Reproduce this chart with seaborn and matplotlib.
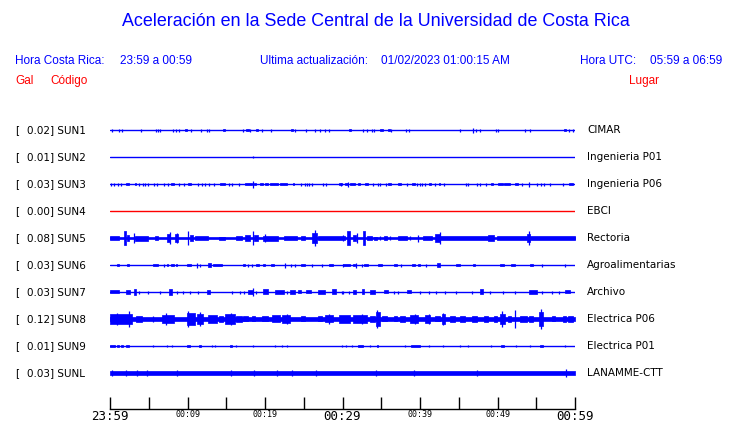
import matplotlib
matplotlib.use("Agg")
import matplotlib.pyplot as plt
import seaborn as sns

# station table
codes = ["SUN1", "SUN2", "SUN3", "SUN4", "SUN5", "SUN6", "SUN7", "SUN8", "SUN9", "SUNL"]
gal = [0.02, 0.01, 0.03, 0.00, 0.08, 0.03, 0.03, 0.12, 0.01, 0.03]
places = ["CIMAR", "Ingenieria P01", "Ingenieria P06", "EBCI", "Rectoria",
          "Agroalimentarias", "Archivo", "Electrica P06", "Electrica P01", "LANAMME-CTT"]
trace_colors = ["blue", "blue", "blue", "red", "blue", "blue", "blue", "blue", "blue", "blue"]

# time axis (minutes after 23:59)
tick_min = list(range(0, 61, 5))
tick_text = ["23:59", "", "00:09", "", "00:19", "", "00:29", "", "00:39", "", "00:49", "", "00:59"]

# half amplitude (pixels) of the quiet trace and of isolated spikes
base_amp = [0.5, 0.5, 0.5, 0.5, 1.0, 0.5, 0.5, 1.8, 0.5, 1.7]
spike_amp = [1.5, 1.0, 1.5, 0.0, 2.0, 1.5, 1.5, 3.0, 1.3, 3.0]

# isolated spikes, minute of occurrence
sun1_spikes = [0.3, 1.2, 1.6, 4.0, 5.9, 6.2, 6.5, 8.1, 8.5, 8.9, 10.5, 11.7, 12.5, 12.8, 17.1, 18.1,
               19.6, 20.8, 23.9, 25.3, 26.4, 27.1, 27.7, 28.3, 32.6, 33.2, 33.8, 34.0, 36.3, 38.2,
               38.6, 45.2, 47.2, 47.8, 49.8, 50.1, 53.6, 54.2, 59.2, 59.7]
sun2_spikes = [18.4]
sun3_spikes = [0.1, 0.5, 1.0, 1.4, 3.8, 4.2, 4.5, 4.9, 5.7, 6.0, 7.0, 7.5, 8.9, 9.5, 11.4, 11.9, 12.3,
               12.8, 13.4, 15.4, 15.7, 16.6, 24.6, 25.1, 25.4, 25.7, 26.1, 27.5, 27.9, 29.8, 33.9,
               34.6, 34.9, 35.6, 38.3, 39.6, 40.0, 40.2, 40.7, 41.9, 43.1, 45.9, 46.2, 47.3, 47.7,
               48.5, 53.2, 55.1, 55.6, 56.0, 56.8, 58.5]
sun4_spikes = []
sun5_spikes = [34.8, 36.1, 38.7]
sun6_spikes = [7.0, 11.6, 17.85, 18.3, 23.3, 23.9, 26.0, 27.3, 30.1, 32.5, 37.6, 40.8, 55.7, 58.7]
sun7_spikes = [3.8, 4.9, 6.4, 8.6, 9.4, 10.3, 11.3, 15.7, 16.8, 17.3, 18.8, 22.8, 29.9, 30.0, 30.8,
               36.6, 37.2, 40.0, 41.2, 42.1, 43.2, 44.7, 46.7, 49.0, 50.7, 52.2, 55.7, 57.0, 57.9]
sun8_spikes = [5.5]
sun9_spikes = [5.6, 7.3, 8.0, 13.1, 13.5, 16.3, 18.4, 21.3, 22.2, 22.8, 29.9, 30.5, 31.2, 33.6,
               38.0, 41.1, 43.0, 45.2, 46.2, 49.2, 52.4, 54.2, 58.7]
sunl_spikes = [0.3, 2.0, 3.5, 4.8, 8.7, 15.6, 18.6, 21.5, 23.5, 26.6, 34.3, 39.2, 47.4]

# bursts: (start minute, end minute, half amplitude in pixels)
sun1_bursts = [(9.7, 9.9, 1.3), (14.6, 14.8, 1.3), (17.6, 17.9, 1.3), (18.8, 19.05, 1.3),
               (23.35, 23.55, 1.3), (30.8, 31.1, 1.3), (34.9, 35.2, 1.3), (35.9, 36.1, 1.3),
               (46.8, 46.8, 2.5), (58.6, 58.8, 1.3)]
sun2_bursts = []
sun3_bursts = [(2.0, 2.45, 1.3), (3.2, 3.4, 1.3), (7.9, 8.2, 1.3), (10.0, 10.4, 1.3), (14.2, 14.8, 1.3),
               (17.4, 18.3, 1.3), (18.6, 18.9, 1.3), (19.4, 19.7, 1.3), (20.0, 20.4, 1.3),
               (20.6, 21.7, 1.3), (21.9, 22.8, 1.3), (23.6, 23.8, 1.3), (29.5, 29.9, 1.3),
               (30.3, 30.75, 1.3), (31.0, 31.6, 1.3), (32.0, 32.3, 1.3), (32.9, 33.3, 1.3),
               (35.9, 36.3, 1.3), (37.2, 37.6, 1.3), (39.0, 39.3, 1.3), (41.2, 41.4, 1.3),
               (42.4, 42.6, 1.3), (49.2, 49.4, 1.3), (50.0, 50.7, 1.3), (50.9, 51.6, 1.3),
               (52.2, 52.7, 1.3), (59.2, 59.8, 1.3), (18.4, 18.4, 3.5), (30.7, 30.7, 2.5),
               (54.1, 54.1, 2.5)]
sun4_bursts = []
sun5_bursts = [(0.0, 1.1, 2.0), (1.85, 2.0, 7.0), (2.15, 2.45, 3.0), (3.1, 3.1, 5.0), (3.2, 4.9, 2.5),
               (5.8, 6.2, 2.0), (7.3, 7.8, 4.0), (7.7, 7.7, 6.0), (8.4, 8.8, 4.0), (8.6, 8.6, 5.0),
               (10.1, 10.1, 7.0), (10.3, 10.75, 3.0), (10.95, 12.7, 2.0), (14.0, 14.8, 1.5),
               (16.3, 17.0, 2.0), (17.4, 18.1, 3.0), (18.4, 18.4, 7.0), (18.6, 19.1, 3.0),
               (19.8, 21.7, 2.5), (20.0, 20.0, 4.0), (22.4, 24.1, 2.0), (24.7, 25.2, 2.0),
               (26.0, 26.7, 5.0), (26.5, 26.5, 8.0), (26.9, 30.3, 1.8), (30.0, 30.0, 3.0),
               (30.6, 31.0, 7.0), (31.4, 31.8, 3.0), (31.9, 31.9, 5.0), (32.7, 32.9, 7.0),
               (33.1, 33.8, 2.0), (34.0, 34.4, 1.5), (35.3, 35.7, 2.0), (37.2, 38.3, 2.0),
               (39.7, 39.7, 3.5), (40.4, 41.5, 2.0), (41.9, 42.6, 4.0), (42.6, 42.6, 6.0),
               (42.6, 48.8, 1.8), (48.8, 49.5, 3.0), (49.9, 53.8, 2.0), (53.8, 54.2, 4.0),
               (54.0, 54.0, 7.0), (54.2, 60.0, 1.8)]
sun6_bursts = [(0.9, 1.2, 1.5), (2.2, 2.5, 1.5), (5.6, 6.2, 1.5), (7.35, 7.5, 1.5), (7.9, 8.2, 1.5),
               (8.55, 8.7, 1.5), (9.9, 10.5, 1.5), (11.2, 11.2, 2.5), (12.7, 13.0, 2.0),
               (13.3, 14.4, 1.5), (17.1, 17.4, 1.5), (18.9, 19.2, 1.5), (19.8, 20.0, 1.5),
               (20.8, 21.2, 1.5), (22.6, 22.6, 2.5), (24.7, 25.2, 1.5), (28.3, 28.8, 1.5),
               (30.1, 31.0, 1.5), (31.3, 31.6, 1.5), (31.8, 31.8, 2.5), (32.8, 33.3, 1.5),
               (34.6, 35.1, 1.5), (36.6, 37.0, 1.5), (39.0, 39.4, 1.5), (39.7, 40.0, 1.5),
               (42.2, 42.6, 2.0), (44.7, 45.2, 1.5), (46.8, 47.1, 1.5), (50.3, 50.8, 1.5),
               (51.7, 52.2, 1.5), (54.2, 54.6, 1.5)]
sun7_bursts = [(0.0, 1.1, 1.5), (2.0, 2.6, 2.0), (3.1, 3.4, 3.0), (7.6, 8.0, 3.0), (12.5, 12.9, 2.0),
               (17.85, 18.5, 2.0), (18.4, 18.4, 4.0), (19.8, 20.4, 2.5), (21.3, 22.4, 2.0),
               (23.2, 23.9, 2.0), (24.3, 24.7, 1.5), (25.3, 25.9, 1.5), (26.9, 27.7, 2.0),
               (28.6, 29.1, 2.5), (31.3, 31.8, 2.0), (32.5, 32.8, 2.5), (33.5, 34.2, 2.0),
               (35.3, 35.9, 1.5), (38.3, 38.9, 1.5), (47.8, 48.1, 2.5), (54.1, 55.1, 2.0),
               (58.7, 59.4, 1.5)]
sun8_bursts = [(0.0, 2.8, 5.0), (0.9, 0.9, 6.0), (2.4, 2.4, 8.0), (3.4, 4.1, 3.0), (6.7, 8.2, 4.0),
               (7.2, 7.2, 6.0), (9.9, 11.0, 6.0), (10.1, 10.1, 8.0), (11.2, 12.0, 5.0),
               (11.6, 11.6, 7.0), (12.7, 13.8, 4.0), (14.0, 14.6, 3.0), (14.8, 16.1, 5.0),
               (15.6, 15.6, 6.0), (16.3, 17.0, 3.0), (17.2, 17.85, 2.5), (18.3, 18.7, 2.5),
               (19.6, 20.4, 2.5), (20.9, 21.9, 3.5), (22.2, 23.2, 4.0), (22.8, 22.8, 5.0),
               (24.7, 25.2, 2.5), (26.9, 27.3, 2.5), (27.7, 28.8, 3.5), (28.2, 28.2, 5.0),
               (29.5, 31.0, 4.0), (31.4, 33.1, 4.0), (32.5, 32.5, 5.0), (33.5, 34.2, 3.0),
               (34.3, 34.8, 7.0), (34.5, 34.5, 9.0), (35.1, 35.7, 2.5), (36.6, 37.0, 2.5),
               (37.4, 38.1, 3.0), (38.7, 39.8, 4.0), (39.4, 39.4, 5.0), (40.6, 41.3, 4.0),
               (41.1, 41.1, 5.0), (41.9, 42.6, 2.5), (42.8, 43.2, 5.0), (43.0, 43.0, 6.0),
               (43.9, 44.5, 3.0), (45.2, 45.8, 3.0), (46.7, 47.3, 3.0), (48.2, 48.8, 3.0),
               (49.5, 49.9, 3.0), (50.3, 51.0, 5.0), (50.6, 50.6, 8.0), (51.4, 51.8, 3.0),
               (52.2, 52.2, 9.0), (52.9, 53.8, 3.0), (54.0, 54.6, 3.0), (55.3, 55.9, 7.0),
               (55.6, 55.6, 10.0), (57.0, 57.4, 2.5), (58.5, 58.9, 3.0), (59.1, 59.8, 3.0)]
sun9_bursts = [(0.0, 0.65, 1.3), (0.9, 1.2, 1.3), (1.4, 1.7, 1.3), (2.0, 2.45, 1.3), (9.9, 10.3, 1.3),
               (11.5, 11.8, 1.3), (15.5, 15.8, 1.3), (32.0, 32.6, 1.3), (34.4, 34.6, 1.3),
               (38.9, 40.0, 1.3), (50.5, 50.9, 1.3), (55.5, 55.9, 1.3)]
sunl_bursts = [(58.9, 58.9, 4.5)]

all_spikes = [sun1_spikes, sun2_spikes, sun3_spikes, sun4_spikes, sun5_spikes,
              sun6_spikes, sun7_spikes, sun8_spikes, sun9_spikes, sunl_spikes]
all_bursts = [sun1_bursts, sun2_bursts, sun3_bursts, sun4_bursts, sun5_bursts,
              sun6_bursts, sun7_bursts, sun8_bursts, sun9_bursts, sunl_bursts]

W, H = 740, 423
ROW = 27.0  # pixels between traces


def fx(px):
    return px / W


def fy(py):
    return 1 - py / H


sns.set_theme(style="white")
fig = plt.figure(figsize=(W / 100, H / 100), dpi=100)
fig.patch.set_facecolor("white")

# trace area: 0..60 min, rows at pixel 130 + 27*i, axis line at pixel 409
ax = fig.add_axes([fx(110), fy(409), fx(575) - fx(110), fy(115) - fy(409)])
ax.set_xlim(0, 60)
ax.set_ylim((409 - 130) / ROW, (115 - 130) / ROW)
ax.set_facecolor("white")

for i, code in enumerate(codes):
    col = trace_colors[i]
    b = base_amp[i] / ROW
    if base_amp[i] <= 0.5:
        sns.lineplot(x=[0, 60], y=[i, i], color=col, lw=1.0, ax=ax)
    else:
        ax.fill_between([0, 60], i - b, i + b, color=col, lw=0.5)
    a = spike_amp[i] / ROW
    if all_spikes[i]:
        ax.vlines(all_spikes[i], i - a, i + a, color=col, lw=0.9)
    for t0, t1, amp in all_bursts[i]:
        h = amp / ROW
        if t1 - t0 < 0.05:
            ax.vlines([t0], i - h, i + h, color=col, lw=0.9)
        else:
            ax.fill_between([t0, t1], i - h, i + h, color=col, lw=0.5)

for side in ["top", "left", "right"]:
    ax.spines[side].set_visible(False)
ax.spines["bottom"].set_color("black")
ax.spines["bottom"].set_linewidth(1.0)
ax.set_yticks([])
ax.set_xticks(tick_min)
ax.set_xticklabels(tick_text, family="DejaVu Sans Mono", color="black")
for lbl in ax.get_xticklabels():
    if lbl.get_text() in ("23:59", "00:29", "00:59"):
        lbl.set_fontsize(9)
    else:
        lbl.set_fontsize(6)
ax.tick_params(axis="x", bottom=True, direction="in", length=9, width=1, color="black", pad=1)
ax.grid(False)

# row labels
for i, code in enumerate(codes):
    y = fy(130 + ROW * i)
    fig.text(fx(15), y, "[", fontsize=7.5, va="center", ha="left", color="black")
    fig.text(fx(27), y, f"{gal[i]:.2f}] {code}", fontsize=7.5, va="center", ha="left", color="black")
    fig.text(fx(587), y, places[i], fontsize=7.5, va="center", ha="left", color="black")

# header
sans = "Liberation Sans"
fig.text(fx(376), fy(22), "Aceleración en la Sede Central de la Universidad de Costa Rica",
         fontsize=12.9, family=sans, color="blue", ha="center", va="center")
fig.text(fx(15), fy(61), "Hora Costa Rica:", fontsize=8.5, family=sans, color="blue", va="center")
fig.text(fx(120), fy(61), "23:59 a 00:59", fontsize=8.5, family=sans, color="blue", va="center")
fig.text(fx(260), fy(61), "Ultima actualización:", fontsize=8.5, family=sans, color="blue", va="center")
fig.text(fx(381), fy(61), "01/02/2023 01:00:15 AM", fontsize=8.5, family=sans, color="blue", va="center")
fig.text(fx(580), fy(61), "Hora UTC:", fontsize=8.5, family=sans, color="blue", va="center")
fig.text(fx(650), fy(61), "05:59 a 06:59", fontsize=8.5, family=sans, color="blue", va="center")
fig.text(fx(15), fy(81), "Gal", fontsize=8.5, family=sans, color="red", va="center")
fig.text(fx(50), fy(81), "Código", fontsize=8.5, family=sans, color="red", va="center")
fig.text(fx(629), fy(81), "Lugar", fontsize=8.5, family=sans, color="red", va="center")

fig.savefig("out.png", dpi=100, facecolor="white")
